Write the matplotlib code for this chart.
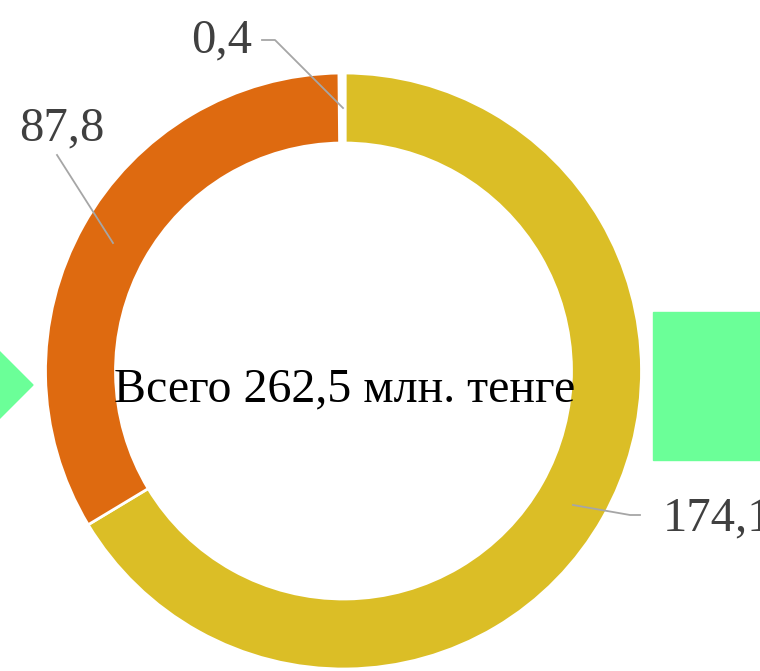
import matplotlib.pyplot as plt
from matplotlib.patches import Polygon, Rectangle

# data
values = [174.1, 87.8, 0.4]
labels = ["174,1", "87,8", "0,4"]
colors = ["#DBBE26", "#DE6A10", "#FFFFFF"]
center_text = "Всего 262,5 млн. тенге"

fig = plt.figure(figsize=(7.6, 6.71), dpi=100)
ax = fig.add_axes([0, 0, 1, 1])

# green decoration shapes from the slide
ax.add_patch(Polygon([(-43, 286), (-5, 324), (33, 286), (-5, 248)],
                     closed=True, color="#6BFF98", zorder=0))
ax.add_patch(Rectangle((653, 211), 120, 148, color="#6BFF98", zorder=0))

cx, cy, r = 343.5, 300, 298
wedges, _ = ax.pie(values, colors=colors, startangle=90, counterclock=False,
                   radius=r, center=(cx, cy), frame=True,
                   wedgeprops=dict(width=70, edgecolor="white", linewidth=2))
wedges[2].set_linewidth(4.5)  # small slice shows as a wider white gap
ax.set_xlim(0, 760)
ax.set_ylim(0, 671)
ax.set_aspect("equal")
ax.axis("off")

font = "Liberation Serif"
ax.text(cx + 1, 282, center_text, ha="center", va="center", fontsize=34.5,
        family=font, color="black")

# labels with leader lines
lab_pos = [(663, 153, "left"), (62, 543, "center"), (222, 631, "center")]
lines = [[(573, 166), (630, 156), (640, 156)],
         [(113, 428), (57, 516)],
         [(343, 563), (275, 631), (262, 631)]]
for (x, y, ha), lbl, ln in zip(lab_pos, labels, lines):
    ax.text(x, y, lbl, ha=ha, va="center", fontsize=35, family=font,
            color="#404040")
    xs, ys = zip(*ln)
    ax.plot(xs, ys, color="#A6A6A6", lw=1.3)

fig.savefig("out.png", dpi=100)
